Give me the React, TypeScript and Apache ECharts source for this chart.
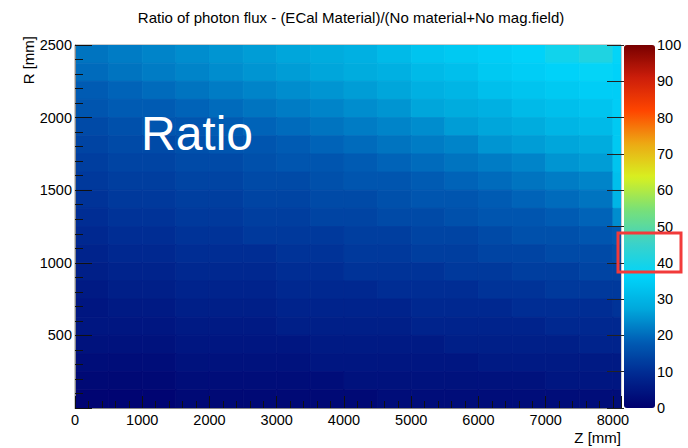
import React, { useEffect, useRef } from "react";
import * as echarts from "echarts";

// Z bin edges (mm) and R bin edges (mm)
const zEdges = [0, 500, 1000, 1500, 2000, 2500, 3000, 3500, 4000, 4500, 5000, 5500, 6000, 6500, 7000, 7500, 8000, 8120];
const rEdges = [0, 125, 250, 375, 500, 625, 750, 875, 1000, 1125, 1250, 1375, 1500, 1625, 1750, 1875, 2000, 2125, 2250, 2375, 2500];

// ratio values, rows from R = 2375-2500 (top) down to R = 0-125 (bottom); columns follow zEdges
const row2500 = [21, 22, 23, 24, 25, 26, 27, 28, 29, 31, 33, 34, 35, 36, 39, 41, 37];
const row2375 = [20, 21, 22, 23, 24, 25, 26, 27, 28, 29, 31, 32, 34, 35, 36, 37, 36];
const row2250 = [18, 19, 20, 21, 22, 23, 24, 25, 26, 27, 29, 30, 32, 33, 34, 35, 35];
const row2125 = [17, 18, 18, 19, 20, 21, 22, 23, 24, 25, 27, 28, 29, 31, 32, 33, 35];
const row2000 = [15, 16, 17, 17, 18, 19, 20, 21, 22, 23, 24, 26, 27, 28, 30, 31, 34];
const row1875 = [14, 15, 15, 16, 17, 17, 18, 19, 20, 21, 22, 23, 25, 26, 27, 28, 34];
const row1750 = [13, 14, 14, 15, 15, 16, 17, 17, 18, 19, 20, 21, 22, 23, 25, 26, 33];
const row1625 = [12, 13, 13, 14, 14, 15, 15, 16, 17, 17, 18, 19, 20, 21, 22, 23, 32];
const row1500 = [11, 12, 12, 13, 13, 14, 14, 15, 15, 16, 17, 17, 18, 19, 20, 21, 30];
const row1375 = [10, 11, 11, 12, 12, 13, 13, 14, 14, 15, 15, 16, 17, 17, 18, 19, 24];
const row1250 = [9, 10, 10, 11, 11, 12, 12, 12, 13, 13, 14, 14, 15, 16, 16, 17, 18];
const row1125 = [8, 9, 9, 10, 10, 10, 11, 11, 12, 12, 13, 13, 14, 14, 15, 15, 16];
const row1000 = [7, 8, 8, 9, 9, 9, 10, 10, 11, 11, 11, 12, 12, 13, 13, 14, 14];
const row875 = [6, 7, 7, 8, 8, 8, 9, 9, 9, 10, 10, 10, 11, 11, 12, 12, 12];
const row750 = [5, 6, 6, 7, 7, 7, 8, 8, 8, 8, 9, 9, 9, 10, 10, 10, 11];
const row625 = [5, 5, 5, 6, 6, 6, 7, 7, 7, 7, 8, 8, 8, 8, 9, 9, 9];
const row500 = [4, 4, 4, 5, 5, 5, 5, 6, 6, 6, 6, 7, 7, 7, 7, 8, 8];
const row375 = [3, 3, 3, 4, 4, 4, 4, 5, 5, 5, 5, 5, 6, 6, 6, 6, 6];
const row250 = [2, 2, 2, 3, 3, 3, 3, 3, 4, 4, 4, 4, 4, 4, 5, 5, 5];
const row125 = [1, 1, 1, 2, 2, 2, 2, 2, 2, 3, 3, 3, 3, 3, 3, 3, 3];

const rowsTopDown = [row2500, row2375, row2250, row2125, row2000, row1875, row1750, row1625, row1500, row1375,
  row1250, row1125, row1000, row875, row750, row625, row500, row375, row250, row125];

const paletteColors = ["#00006e", "#002890", "#005cb4", "#00a8dc", "#00d4fa", "#3cd2c8", "#78e078", "#d8f020", "#ecaa14", "#ff4600", "#cd1e0a", "#780000"];

const titleText = "Ratio of photon flux - (ECal Material)/(No material+No mag.field)";
const FONT = "'Liberation Sans', Arial, Helvetica, sans-serif";

export default function App() {
  const ref = useRef<HTMLDivElement>(null);
  useEffect(() => {
    if (!ref.current) return;
    const chart = echarts.init(ref.current, null, { renderer: "svg" });
    const nRows = rowsTopDown.length;
    const data: number[][] = [];
    rowsTopDown.forEach((row, i) => {
      const rIdx = nRows - 1 - i;
      row.forEach((v, j) => {
        data.push([zEdges[j], zEdges[j + 1], rEdges[rIdx], rEdges[rIdx + 1], v]);
      });
    });

    const labelStyle = { fontFamily: FONT, fontSize: 14.5, color: "#000" };

    chart.setOption({
      animation: false,
      backgroundColor: "#fff",
      title: {
        text: titleText,
        left: 346,
        top: 5,
        textAlign: "center",
        textStyle: { fontFamily: FONT, fontSize: 15, fontWeight: "normal", color: "#000" },
      },
      grid: [
        { left: 75, top: 45, width: 546, height: 363, show: true, borderColor: "#999", borderWidth: 1, backgroundColor: "transparent" },
        { left: 624, top: 45, width: 31, height: 363, show: false },
      ],
      xAxis: [
        {
          type: "value", gridIndex: 0, min: 0, max: 8120, interval: 1000, z: 10,
          axisLine: { show: true, lineStyle: { color: "#888", width: 1 } },
          axisTick: { show: true, inside: true, length: 12, lineStyle: { color: "#111" } },
          minorTick: { show: true, splitNumber: 5, length: 7, lineStyle: { color: "#111" } },
          splitLine: { show: false },
          axisLabel: { ...labelStyle, margin: 4, formatter: (v: number) => (v % 1000 === 0 ? String(v) : "") },
        },
        { type: "value", gridIndex: 1, min: 0, max: 1, show: false },
      ],
      yAxis: [
        {
          type: "value", gridIndex: 0, min: 0, max: 2500, interval: 500, z: 10,
          axisLine: { show: true, lineStyle: { color: "#888", width: 1 } },
          axisTick: { show: true, inside: true, length: 17, lineStyle: { color: "#111" } },
          minorTick: { show: true, splitNumber: 5, length: 8, lineStyle: { color: "#111" } },
          splitLine: { show: false },
          axisLabel: { ...labelStyle, margin: 3, formatter: (v: number) => (v === 0 ? "" : String(v)) },
        },
        {
          type: "value", gridIndex: 1, position: "right", min: 0, max: 100, interval: 10, z: 10,
          axisLine: { show: false },
          axisTick: { show: true, inside: true, length: 17, lineStyle: { color: "#222" } },
          splitLine: { show: false },
          axisLabel: { ...labelStyle, margin: 2 },
        },
      ],
      visualMap: {
        type: "continuous",
        min: 0,
        max: 100,
        dimension: 4,
        seriesIndex: 0,
        left: 624,
        top: 45,
        itemWidth: 31,
        itemHeight: 363,
        padding: 0,
        calculable: false,
        hoverLink: false,
        text: null,
        inRange: { color: paletteColors },
      },
      series: [
        {
          type: "custom",
          xAxisIndex: 0,
          yAxisIndex: 0,
          clip: true,
          encode: { x: [0, 1], y: [2, 3] },
          data,
          renderItem: (params: any, api: any) => {
            const p0 = api.coord([api.value(0), api.value(3)]);
            const p1 = api.coord([api.value(1), api.value(2)]);
            const c = api.visual("color");
            return {
              type: "rect",
              shape: { x: p0[0], y: p0[1], width: p1[0] - p0[0], height: p1[1] - p0[1] },
              style: { fill: c, stroke: c, lineWidth: 0.8 },
            };
          },
        },
      ],
      graphic: [
        {
          type: "text", x: 141, y: 133, z: 20,
          style: { text: "Ratio", fontFamily: FONT, fontSize: 48, fill: "#fff", verticalAlign: "middle", align: "left" },
        },
        {
          type: "text", x: 621, y: 437, z: 20,
          style: { text: "Z [mm]", fontFamily: FONT, fontSize: 15, fill: "#000", align: "right", verticalAlign: "middle" },
        },
        {
          type: "text", x: 28, y: 36, rotation: Math.PI / 2, z: 20,
          style: { text: "R [mm]", fontFamily: FONT, fontSize: 15, fill: "#000", align: "right", verticalAlign: "middle" },
        },
        {
          type: "rect", z: 30,
          shape: { x: 618, y: 233, width: 63, height: 39 },
          style: { fill: "transparent", stroke: "#f23a3a", lineWidth: 3 },
        },
      ],
    });
    return () => chart.dispose();
  }, []);
  return <div ref={ref} style={{ position: "fixed", left: 0, top: 0, width: 688, height: 448 }} />;
}
